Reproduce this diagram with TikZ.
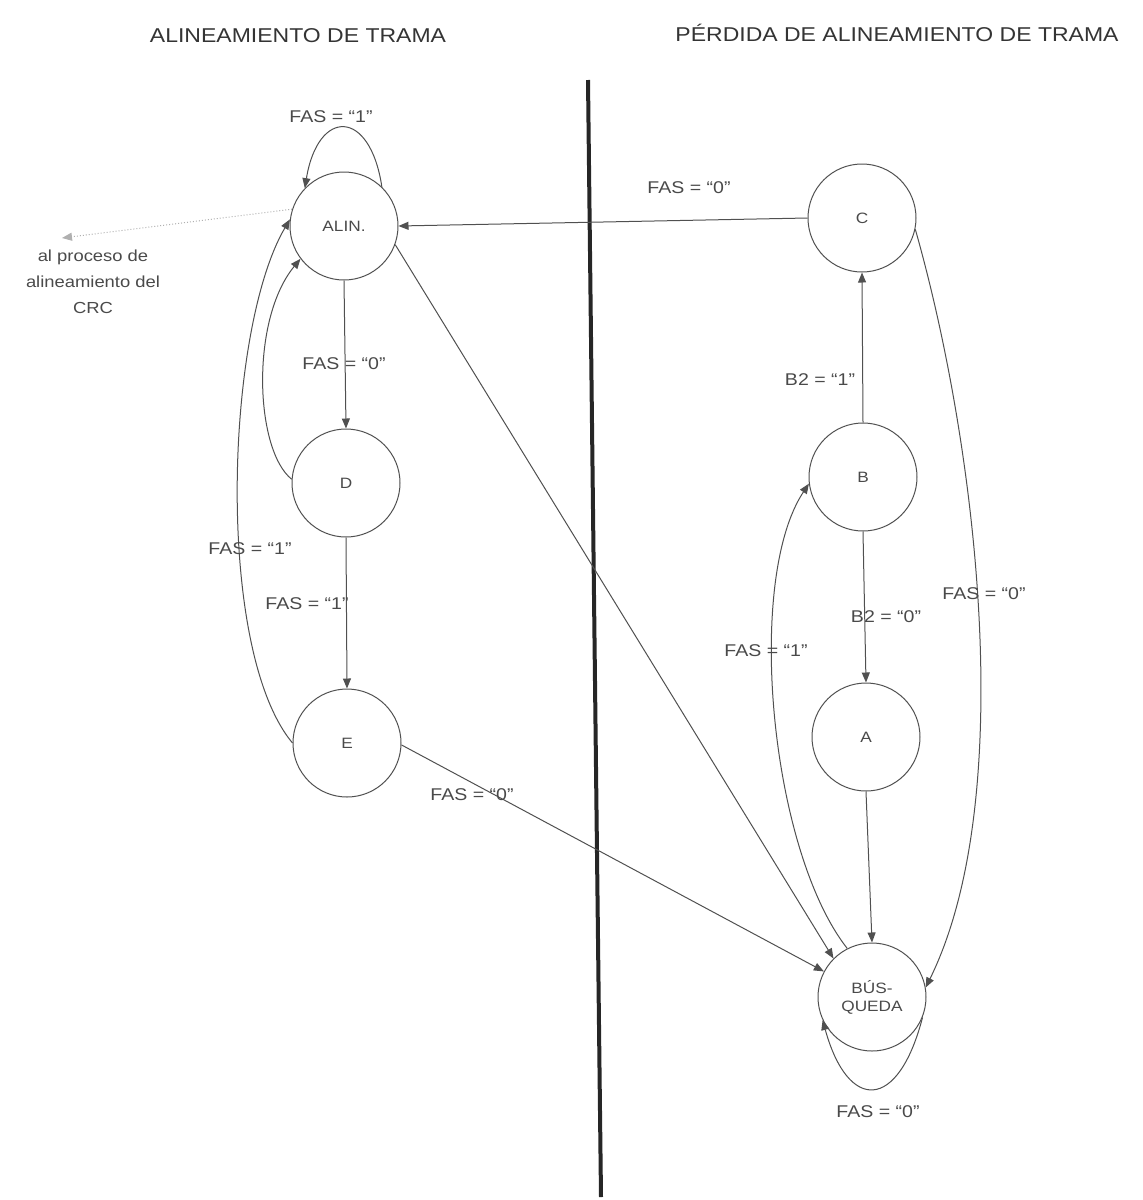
\documentclass[tikz,border=0pt]{standalone}
\usepackage{fontspec}
\setmainfont{Liberation Sans}[FakeStretch=1.15]
\usetikzlibrary{arrows.meta}
\definecolor{ink}{HTML}{505050}
\definecolor{txt}{HTML}{4A4A4A}
\begin{document}
\begin{tikzpicture}[x=0.5pt,y=-0.5pt,
  st/.style={draw=ink,line width=0.5pt,circle,minimum size=54pt,inner sep=0pt,text=txt,font=\fontsize{7.5}{9}\selectfont,align=center},
  arr/.style={draw=ink,line width=0.5pt,-{Triangle[length=5pt,width=4pt]}},
  lbl/.style={text=txt,font=\fontsize{8.5}{10}\selectfont,inner sep=1pt},
  ttl/.style={text=txt!70!black,font=\fontsize{10}{12}\selectfont},
  dotarr/.style={draw=ink!45,line width=0.5pt,densely dotted,-{Triangle[length=5pt,width=4pt]}}]
\path[use as bounding box] (0,0) rectangle (1143,1200);
% titles
\node[ttl] (t1) at (298,36) {ALINEAMIENTO DE TRAMA};
\node[ttl] (t2) at (897,33) {PÉRDIDA DE ALINEAMIENTO DE TRAMA};
% divider
\draw[line width=2pt,color=black!85] (588,80) -- (601,1197);
% states
\node[st] (alin) at (344,226) {ALIN.};
\node[st] (d) at (346,483) {D};
\node[st] (e) at (347,743) {E};
\node[st] (c) at (862,218) {C};
\node[st] (b) at (863,477) {B};
\node[st] (a) at (866,737) {A};
\node[st] (busq) at (872,997) {BÚS-\\QUEDA};
% CRC
\coordinate (crc) at (62,238);
\node[lbl,align=center,font=\fontsize{8}{13}\selectfont] (crctext) at (93,282) {al proceso de\\alineamiento del\\CRC};
\draw[dotarr] (alin.162) -- (crc);
% edges left
\draw[arr] (alin.46) .. controls (370,108) and (318,108) .. (alin.136);
\node[lbl] (l1) at (331,117) {FAS = “1”};
\draw[arr] (alin.south) -- (d.north);
\node[lbl] (l2) at (344,364) {FAS = “0”};
\draw[arr] (d.176) .. controls (255,450) and (250,320) .. (alin.217);
\draw[arr] (e.180) .. controls (215,650) and (225,330) .. (alin.173);
\node[lbl] (l3) at (250,549) {FAS = “1”};
\draw[arr] (d.south) -- (e.north);
\node[lbl] (l4) at (307,604) {FAS = “1”};
\draw[arr] (alin.-20) -- (busq.135);
\draw[arr] (e.-2) -- (busq.152);
\node[lbl] (l5) at (472,795) {FAS = “0”};
% edges right
\draw[arr] (c.west) -- (alin.east);
\node[lbl] (l6) at (689,188) {FAS = “0”};
\draw[arr] (c.-12) .. controls (978,450) and (1018,800) .. (busq.10);
\node[lbl] (l7) at (984,594) {FAS = “0”};
\draw[arr] (b.north) -- (c.south);
\node[lbl] (l8) at (820,380) {B2 = “1”};
\draw[arr] (b.south) -- (a.north);
\node[lbl] (l9) at (886,617) {B2 = “0”};
\draw[arr] (busq.117) .. controls (770,850) and (745,580) .. (b.187);
\node[lbl] (l10) at (766,651) {FAS = “1”};
\draw[arr] (a.south) -- (busq.north);
\draw[arr] (busq.-22) .. controls (898,1112) and (848,1112) .. (busq.205);
\node[lbl] (l11) at (878,1112) {FAS = “0”};
\end{tikzpicture}
\end{document}
